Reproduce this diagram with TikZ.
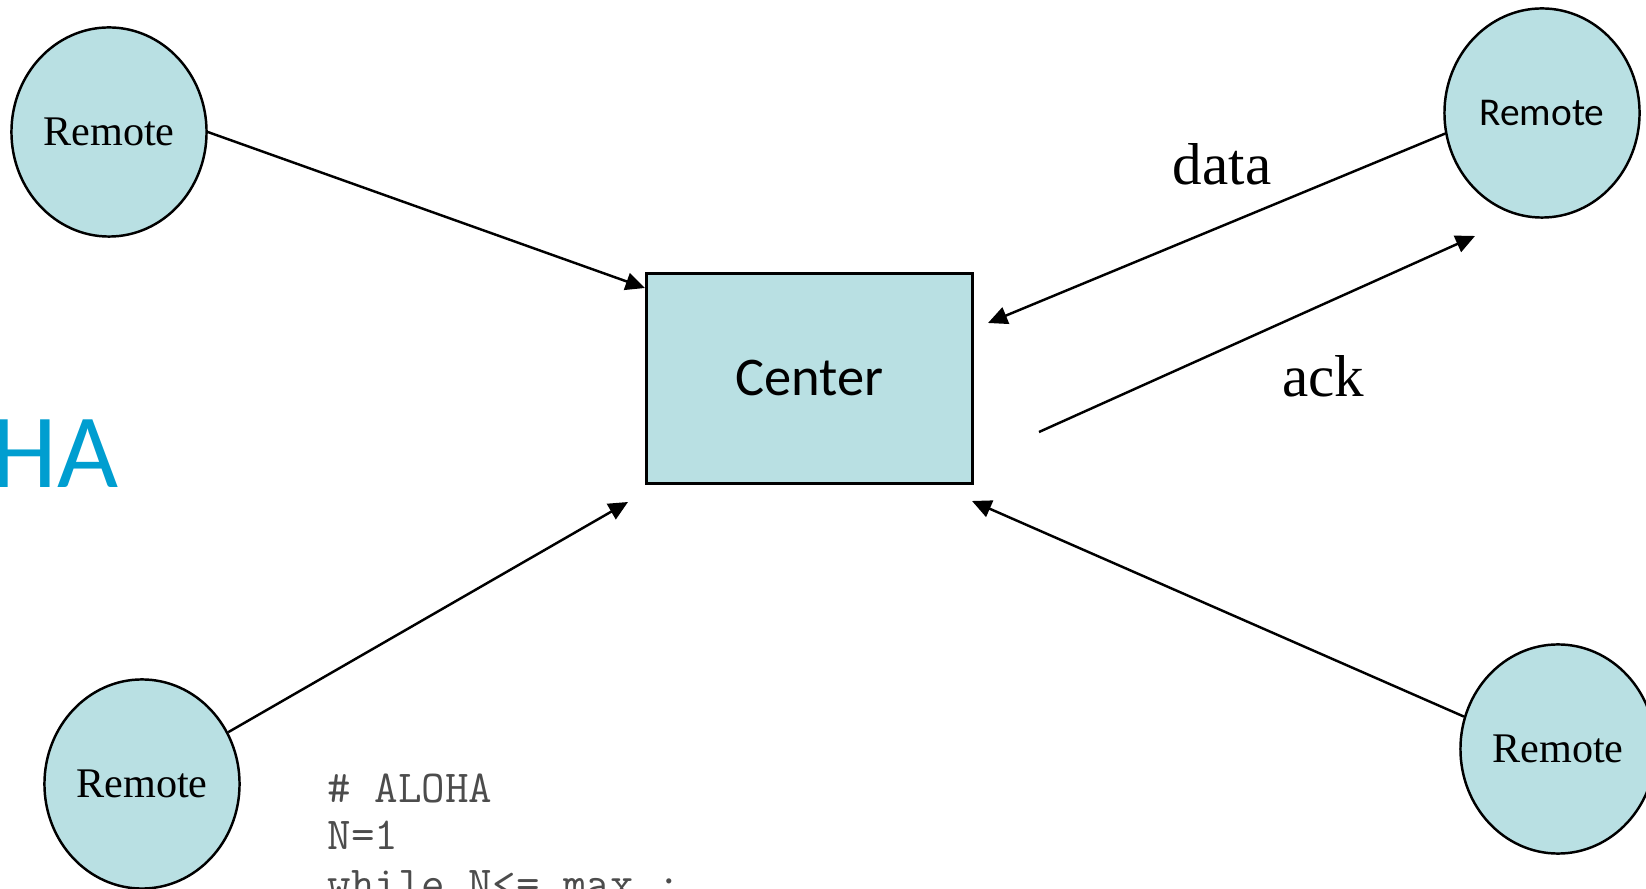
\documentclass[tikz,border=0pt]{standalone}
\usepackage{fontspec}
\setmainfont{Liberation Serif}
\newfontfamily\calibri{Carlito}
\usetikzlibrary{shapes.geometric,arrows.meta}
\definecolor{nodefill}{RGB}{185,224,227}
\definecolor{titleblue}{RGB}{0,158,208}

\begin{document}
\begin{tikzpicture}[x=0.01cm, y=-0.01cm, >={Triangle[length=5.5pt,width=5pt]},
    remote_style/.style={ellipse, draw=black, line width=0.7pt, fill=nodefill,
        minimum width=1.95cm, minimum height=2.09cm, inner sep=0pt,
        font=\fontsize{12}{14}\selectfont},
    center_style/.style={rectangle, draw=black, line width=0.85pt, fill=nodefill,
        minimum width=3.25cm, minimum height=2.09cm, inner sep=0pt,
        font=\calibri\fontsize{15.5}{18}\selectfont},
    edge_style/.style={draw=black, line width=0.7pt, ->},
    label_style/.style={font=\fontsize{16.8}{20}\selectfont, inner sep=0pt, anchor=base},
    code_style/.style={font=\ttfamily\fontsize{13}{15}\selectfont, text=black!70,
        inner sep=0pt, anchor=base west}]

    \useasboundingbox (0,0) rectangle (1646,889);
    \clip (0,0) rectangle (1646,889);

    \node[remote_style] (r1) at (109,132) {Remote};
    \node[remote_style, font=\calibri\fontsize{11.2}{13}\selectfont] (r2) at (1542,113) {Remote};
    \node[remote_style] (r3) at (142,784) {Remote};
    \node[remote_style] (r4) at (1558,749) {Remote};
    \node[center_style] (c) at (809.5,378.5) {Center};

    \coordinate (t1) at (645,288);
    \coordinate (t2) at (988,323);
    \coordinate (t3) at (628,502);
    \coordinate (t4) at (972,501);
    \coordinate (a0) at (1039,432);
    \coordinate (a1) at (1475,236);

    \draw[edge_style] (r1.east) -- (t1);
    \draw[edge_style] (r2.192) -- (t2);
    \draw[edge_style] (a0) -- (a1);
    \draw[edge_style] (r3.31) -- (t3);
    \draw[edge_style] (r4.161) -- (t4);

    \node[label_style] (lbl_data) at (1222,185) {data};
    \node[label_style] (lbl_ack) at (1323,397) {ack};

    \node[font=\calibri\fontsize{30}{36}\selectfont, text=titleblue, inner sep=0pt,
        anchor=base west] (title) at (-9,488) {HA};

    \node[code_style] (code1) at (327,802) {\# ALOHA};
    \node[code_style] (code2) at (327,850) {N=1};
    \node[code_style] (code3) at (327,898) {while N<= max :};
\end{tikzpicture}
\end{document}
